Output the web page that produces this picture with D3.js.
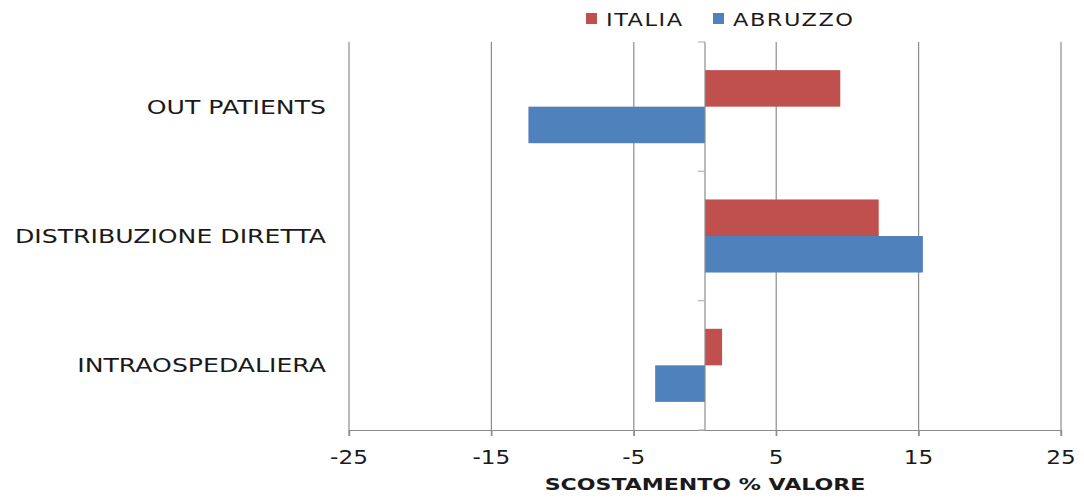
<!DOCTYPE html>
<html>
<head>
<meta charset="utf-8">
<script src="https://cdn.jsdelivr.net/npm/d3@7"></script>
<style>
  html, body { margin: 0; padding: 0; background: #fff; }
  svg { display: block; }
  text { font-family: "DejaVu Sans", Verdana, sans-serif; fill: #1a1a1a; }
</style>
</head>
<body>
<svg id="chart" width="1084" height="500"></svg>
<script>
// ---- data ----
const categories = ["OUT PATIENTS", "DISTRIBUZIONE DIRETTA", "INTRAOSPEDALIERA"];
const seriesNames = ["ITALIA", "ABRUZZO"];
const italia = [9.5, 12.2, 1.2];
const abruzzo = [-12.4, 15.3, -3.5];
const tickValues = [-25, -15, -5, 5, 15, 25];
const axisTitle = "SCOSTAMENTO % VALORE";
const colors = ["#C0504D", "#4F81BD"];

(function () {
const seriesValues = [italia, abruzzo];
const rows = categories.map((c, i) => ({ cat: c, vals: seriesNames.map((s, j) => ({ s, j, v: seriesValues[j][i] })) }));

const svg = d3.select("#chart");
const pLeft = 349, pRight = 1061, pTop = 42, pBottom = 430;
const gridColor = "#8c8c8c";

const x = d3.scaleLinear().domain([-25, 25]).range([pLeft, pRight]);
const y = d3.scaleBand().domain(categories).range([pTop, pBottom]).paddingInner(0).paddingOuter(0);
const yInner = d3.scaleBand().domain(seriesNames).range([0, y.bandwidth()]).paddingInner(0).paddingOuter(0.77);

function stext(g, x0, y0, str, opts) {
  const t = g.append("text")
    .attr("transform", `translate(${x0},${y0}) scale(${opts.sx || 1.2},1)`)
    .attr("text-anchor", opts.anchor || "start")
    .attr("dominant-baseline", "central")
    .style("font-size", opts.size + "px")
    .text(str);
  if (opts.weight) t.style("font-weight", opts.weight);
  if (opts.ls) t.style("letter-spacing", opts.ls + "px");
  return t;
}

// gridlines
svg.append("g").selectAll("line").data(tickValues).join("line")
  .attr("x1", d => x(d)).attr("x2", d => x(d))
  .attr("y1", pTop).attr("y2", pBottom + 6)
  .attr("stroke", gridColor).attr("stroke-width", 1.2);

// bottom axis
const xAxis = d3.axisBottom(x).tickValues(tickValues).tickSize(6).tickFormat("");
const gx = svg.append("g").attr("transform", `translate(0,${pBottom})`).call(xAxis);
gx.select(".domain").attr("stroke", gridColor).attr("stroke-width", 1.2);
gx.selectAll(".tick line").attr("stroke", gridColor).attr("stroke-width", 1.2);

// tick labels
const tl = svg.append("g");
tickValues.forEach(v => stext(tl, x(v), 457, String(v), { size: 19, sx: 1.22, anchor: "middle" }));

// bars
const groups = svg.append("g").selectAll("g").data(rows).join("g")
  .attr("transform", d => `translate(0,${y(d.cat)})`);
groups.selectAll("rect").data(d => d.vals).join("rect")
  .attr("x", d => x(Math.min(0, d.v)))
  .attr("width", d => Math.abs(x(d.v) - x(0)))
  .attr("y", d => yInner(d.s))
  .attr("height", yInner.bandwidth())
  .attr("fill", d => colors[d.j]);

// zero axis
svg.append("line")
  .attr("x1", x(0)).attr("x2", x(0)).attr("y1", pTop).attr("y2", pBottom)
  .attr("stroke", gridColor).attr("stroke-width", 1.2);
const boundaries = categories.map(c => y(c)).concat([pBottom]);
svg.append("g").selectAll("line").data(boundaries).join("line")
  .attr("x1", x(0) - 7).attr("x2", x(0)).attr("y1", d => d).attr("y2", d => d)
  .attr("stroke", "#b5b5b5").attr("stroke-width", 1.2);

// category labels
const cl = svg.append("g");
categories.forEach(c => stext(cl, 326, y(c) + y.bandwidth() / 2, c, { size: 19.5, sx: 1.29, anchor: "end" }));

// axis title
stext(svg.append("g"), 705, 485, axisTitle, { size: 16, sx: 1.38, anchor: "middle", weight: "bold" });

// legend
const lg = svg.append("g");
const legendX = [586, 713];
seriesNames.forEach((s, i) => {
  lg.append("rect").attr("x", legendX[i]).attr("y", 13).attr("width", 11).attr("height", 11).attr("fill", colors[i]);
  stext(lg, legendX[i] + 20, 19.5, s, { size: 18, sx: 1.25, ls: 1.2 });
});
})();
</script>
</body>
</html>
